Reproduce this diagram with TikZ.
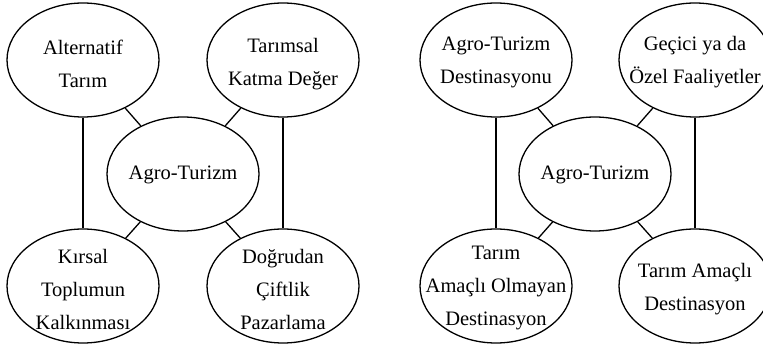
\documentclass[tikz,border=0pt]{standalone}
\usepackage{fontspec}
\setmainfont{Liberation Serif}
\usepackage{tikz}
\usetikzlibrary{shapes,positioning}

\tikzset{
    bub/.style={draw, ellipse, line width=1.3pt, minimum width=152pt, minimum height=114pt, inner sep=0pt},
    txt/.style={align=center, inner sep=0pt, font=\fontsize{20.5}{33}\selectfont},
    link/.style={line width=1.3pt}
}

\begin{document}
\begin{tikzpicture}[x=1pt, y=-1pt]
    \useasboundingbox (0,0) rectangle (763,344);
    % left diagram
    \node[bub] (alt) at (83,60) {};
    \node[bub] (katma) at (283,60) {};
    \node[bub] (agro) at (183,174) {};
    \node[bub] (kirsal) at (83,286) {};
    \node[bub] (dogrudan) at (283,286) {};
    \node[txt] (altT) at ([yshift=-4pt]alt) {Alternatif\\Tarım};
    \node[txt] (katmaT) at ([yshift=-4pt]katma) {Tarımsal\\Katma Değer};
    \node[txt] (agroT) at ([yshift=-1pt]agro) {Agro-Turizm};
    \node[txt] (kirsalT) at ([yshift=-3pt]kirsal) {Kırsal\\Toplumun\\Kalkınması};
    \node[txt] (dogrudanT) at ([yshift=-3pt]dogrudan) {Doğrudan\\Çiftlik\\Pazarlama};
    \draw[link] (alt) -- (agro);
    \draw[link] (katma) -- (agro);
    \draw[link] (kirsal) -- (agro);
    \draw[link] (dogrudan) -- (agro);
    \draw[link] (alt.south) -- (kirsal.north);
    \draw[link] (katma.south) -- (dogrudan.north);
    % right diagram
    \node[bub] (dest) at (496,60) {};
    \node[bub] (gecici) at (695,60) {};
    \node[bub] (agroB) at (595,174) {};
    \node[bub] (olmayan) at (496,286) {};
    \node[bub] (amacli) at (695,286) {};
    \node[txt] (destT) at ([yshift=-2pt]dest) {Agro-Turizm\\Destinasyonu};
    \node[txt] (geciciT) at ([yshift=-2pt]gecici) {Geçici ya da\\Özel Faaliyetler};
    \node[txt] (agroBT) at ([yshift=-1pt]agroB) {Agro-Turizm};
    \node[txt] (olmayanT) at ([yshift=-2pt]olmayan) {Tarım\\Amaçlı Olmayan\\Destinasyon};
    \node[txt] (amacliT) at ([yshift=-3pt]amacli) {Tarım Amaçlı\\Destinasyon};
    \draw[link] (dest) -- (agroB);
    \draw[link] (gecici) -- (agroB);
    \draw[link] (olmayan) -- (agroB);
    \draw[link] (amacli) -- (agroB);
    \draw[link] (dest.south) -- (olmayan.north);
    \draw[link] (gecici.south) -- (amacli.north);
\end{tikzpicture}
\end{document}
